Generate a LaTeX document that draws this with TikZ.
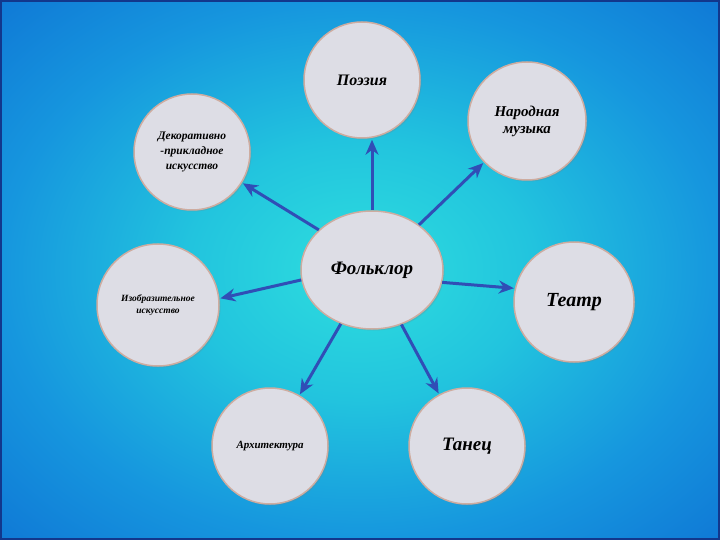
\documentclass[tikz,border=0pt]{standalone}
\usepackage{fontspec}
\setmainfont{Liberation Serif}
\usetikzlibrary{arrows.meta,shadows,shapes.geometric}
\definecolor{bgA}{RGB}{46,222,222}
\definecolor{bgB}{RGB}{34,196,222}
\definecolor{bgC}{RGB}{22,150,222}
\definecolor{bgD}{RGB}{14,114,212}
\definecolor{bgF}{RGB}{10,98,204}
\definecolor{bgE}{RGB}{8,76,188}
\definecolor{frame}{RGB}{18,55,140}
\definecolor{bubfill}{RGB}{221,221,229}
\definecolor{bubline}{RGB}{206,172,160}
\definecolor{arrowc}{RGB}{48,78,182}
\pgfdeclareradialshading{bgshade}{\pgfpoint{0bp}{0bp}}{color(0bp)=(bgA); color(12bp)=(bgB); color(25bp)=(bgC); color(38bp)=(bgD); color(50bp)=(bgF); color(72bp)=(bgE)}
\tikzset{
  bub/.style={circle, fill=bubfill, draw=bubline, line width=1.5pt, inner sep=0pt,
    align=center, text=black, drop shadow={opacity=0.25, shadow xshift=1.5pt, shadow yshift=-1.5pt}},
  bubell/.style={ellipse, fill=bubfill, draw=bubline, line width=1.5pt, inner sep=0pt,
    align=center, text=black, drop shadow={opacity=0.25, shadow xshift=1.5pt, shadow yshift=-1.5pt}},
  arr/.style={draw=arrowc, line width=3pt, -{Stealth[length=15pt,width=13pt]}, shorten >=1pt}
}
\begin{document}
\begin{tikzpicture}[x=1pt,y=-1pt]
\useasboundingbox (0,0) rectangle (720,540);
\shade[shading=bgshade] (0,0) rectangle (720,540);
\draw[frame, line width=2pt] (1,1) rectangle (719,539);

\node[bub, minimum size=116pt, font=\bfseries\itshape\fontsize{16}{18}\selectfont] (poe) at (362,80) {Поэзия};
\node[bub, minimum size=118pt, font=\bfseries\itshape\fontsize{15}{17}\selectfont] (muz) at (527,121) {Народная\\музыка};
\node[bub, minimum size=116pt, font=\bfseries\itshape\fontsize{11.5}{15}\selectfont] (dec) at (192,152) {Декоративно\\-прикладное\\искусство};
\node[bub, minimum size=122pt, font=\bfseries\itshape\fontsize{9.5}{12}\selectfont] (izo) at (158,305) {Изобразительное\\искусство};
\node[bubell, minimum width=142pt, minimum height=118pt, font=\bfseries\itshape\fontsize{19}{22}\selectfont] (folk) at (372,270) {Фольклор};
\node[bub, minimum size=120pt, font=\bfseries\itshape\fontsize{20}{22}\selectfont] (teat) at (574,302) {Театр};
\node[bub, minimum size=116pt, font=\bfseries\itshape\fontsize{11}{13}\selectfont] (arch) at (270,446) {Архитектура};
\node[bub, minimum size=116pt, font=\bfseries\itshape\fontsize{19}{22}\selectfont] (tan) at (467,446) {Танец};

\draw[arr] (folk.north) -- (folk.north |- poe.south);
\draw[arr] (folk) -- (muz);
\draw[arr] (folk.143) -- (dec);
\draw[arr] (folk.188) -- (izo.6);
\draw[arr] (folk.-10) -- (teat.167);
\draw[arr] (folk) -- (arch);
\draw[arr] (folk) -- (tan);
\end{tikzpicture}
\end{document}
